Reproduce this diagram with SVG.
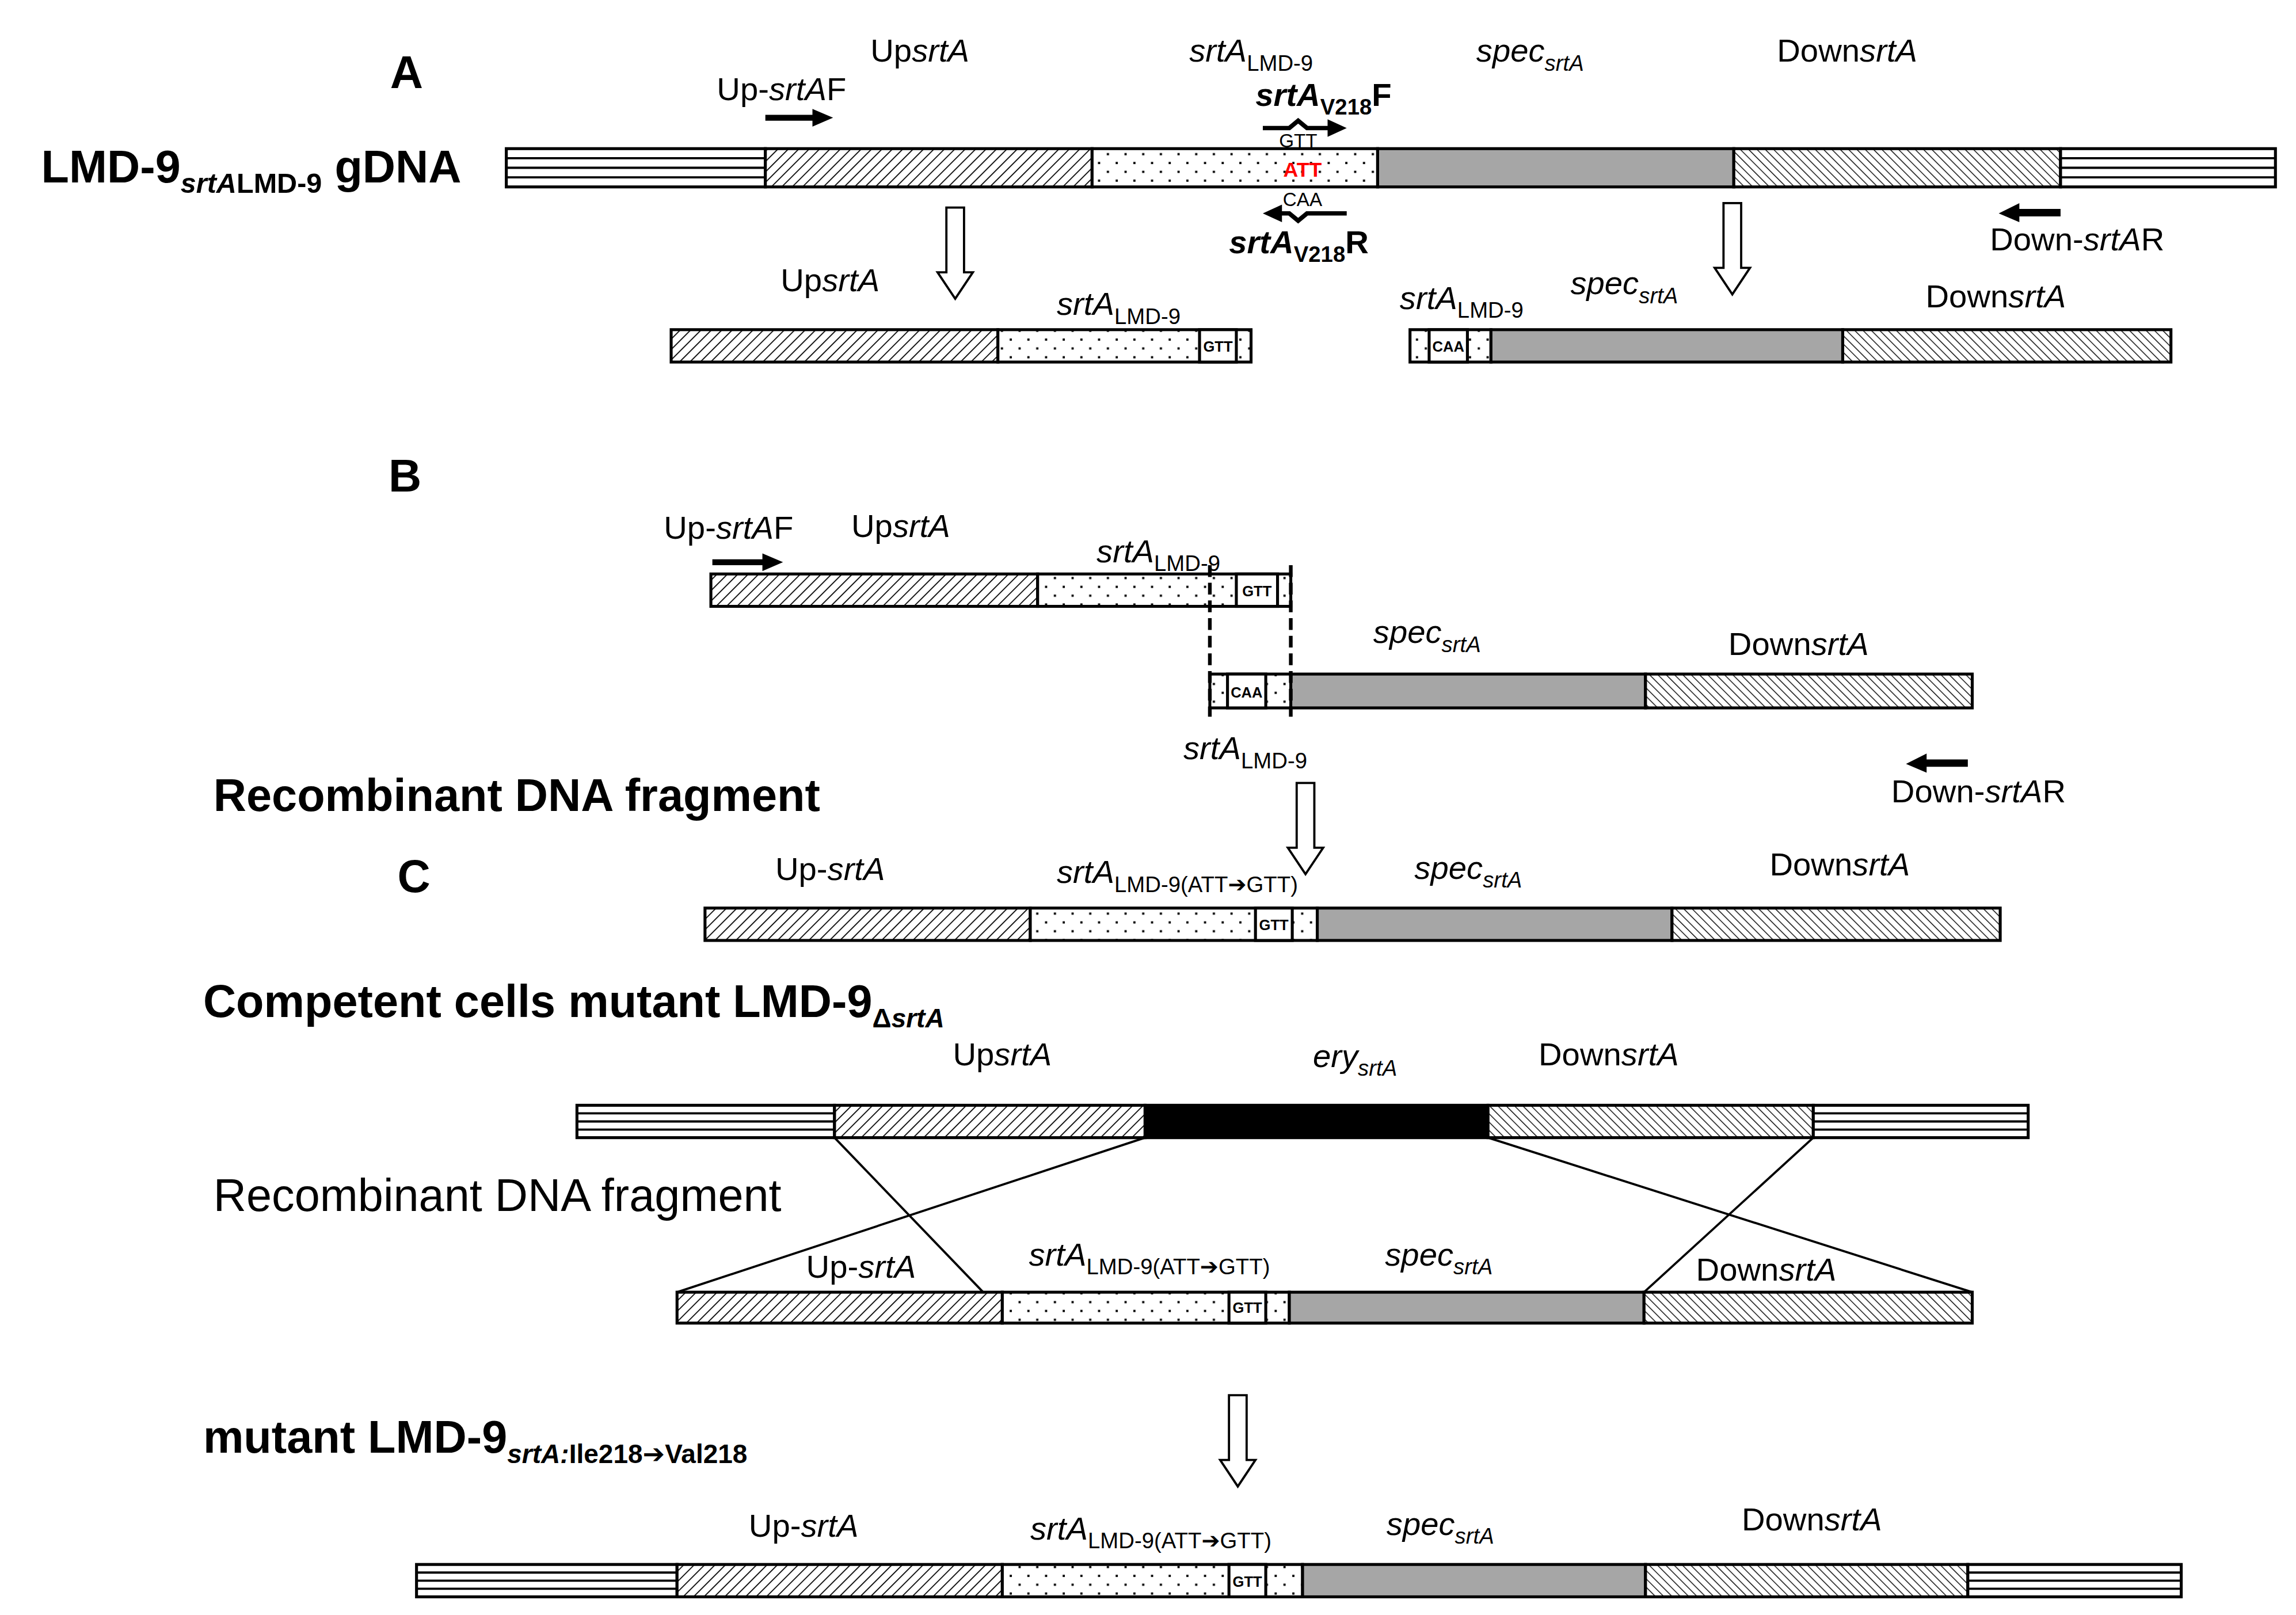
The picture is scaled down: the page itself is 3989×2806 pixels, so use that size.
<svg xmlns="http://www.w3.org/2000/svg" width="3989" height="2806" viewBox="0 0 3989 2806">
<style>
text{font-family:"Liberation Sans",Arial,sans-serif;fill:#000}
.l{font-size:22px}.s{font-size:15px}.i{font-style:italic}.b{font-weight:bold}
.t{font-size:31px;font-weight:bold}
.ar{font-family:"DejaVu Sans",sans-serif;font-weight:bold}
.seg{stroke:#000;stroke-width:2}
.up{fill:url(#hu)}.dn{fill:url(#hd)}.dt{fill:url(#dt)}.sp{fill:#a6a6a6}.wh{fill:#fff}.fl{fill:#fff}
.g{font-size:10px;font-weight:bold}
.ln{stroke:#000;stroke-width:1.5;fill:none}
.ha{fill:#fff;stroke:#000;stroke-width:1.5}
</style>
<defs>
<pattern id="hu" patternUnits="userSpaceOnUse" width="5" height="5" patternTransform="rotate(45)"><rect width="5" height="5" fill="#fff"/><line x1="0" y1="0" x2="0" y2="5" stroke="#000" stroke-width="1.4"/></pattern>
<pattern id="hd" patternUnits="userSpaceOnUse" width="4" height="4" patternTransform="rotate(-45)"><rect width="4" height="4" fill="#fff"/><line x1="0" y1="0" x2="0" y2="4" stroke="#000" stroke-width="1.1"/></pattern>
<pattern id="dt" patternUnits="userSpaceOnUse" width="12" height="12"><rect width="12" height="12" fill="#fff"/><rect x="2" y="2" width="1.5" height="1.5" fill="#000"/><rect x="8" y="8" width="1.5" height="1.5" fill="#000"/></pattern>
<path id="hollow" d="M-6,0 L6,0 L6,44 L12,44 L0,62 L-12,44 L-6,44 Z" class="ha"/>
</defs>
<rect width="3989" height="2806" fill="#fff"/>
<g transform="scale(2.5571)">
<g id="rowA">
<text x="265" y="60" class="t">A</text>
<text x="28" y="124" class="t">LMD-9<tspan font-size="19" dy="7" font-style="italic">srtA</tspan><tspan font-size="19">LMD-9</tspan><tspan dy="-7"> gDNA</tspan></text>
<g class="seg">
<rect x="344" y="101" width="176" height="26" class="fl"/>
<rect x="520" y="101" width="222" height="26" class="up"/>
<rect x="742" y="101" width="194" height="26" class="dt"/>
<rect x="936" y="101" width="242" height="26" class="sp"/>
<rect x="1178" y="101" width="222" height="26" class="dn"/>
<rect x="1400" y="101" width="146" height="26" class="fl"/>
</g>
<path class="ln" d="M344,107.5H520M344,114H520M344,120.5H520M1400,107.5H1546M1400,114H1546M1400,120.5H1546"/>
<text x="625" y="42" class="l" text-anchor="middle">Up<tspan class="i">srtA</tspan></text>
<text x="808" y="42" class="l i">srtA<tspan class="s" font-style="normal" dy="6">LMD-9</tspan></text>
<text x="1003" y="42" class="l i">spec<tspan class="s" dy="6">srtA</tspan></text>
<text x="1255" y="42" class="l" text-anchor="middle">Down<tspan class="i">srtA</tspan></text>
<text x="487" y="68" class="l">Up-<tspan class="i">srtA</tspan>F</text>
<path d="M520,78H552V74L566,80L552,86V82H520Z"/>
<text x="853" y="72" class="l b"><tspan class="i">srtA</tspan><tspan class="s" dy="6">V218</tspan><tspan dy="-6">F</tspan></text>
<path d="M858,87H876L882,82L888,87H903" fill="none" stroke="#000" stroke-width="3"/>
<path d="M902,81L915,87L902,93Z"/>
<text x="882" y="100" font-size="13" text-anchor="middle">GTT</text>
<text x="885" y="120" font-size="14" font-weight="bold" style="fill:#f00" text-anchor="middle">ATT</text>
<text x="885" y="140" font-size="13" text-anchor="middle">CAA</text>
<path d="M870,145H876L882,150L888,145H915" fill="none" stroke="#000" stroke-width="3"/>
<path d="M871,139L858,145L871,151Z"/>
<text x="835" y="172" class="l b"><tspan class="i">srtA</tspan><tspan class="s" dy="6">V218</tspan><tspan dy="-6">R</tspan></text>
<path d="M1400,142H1372V138L1358,145L1372,151V147H1400Z"/>
<text x="1352" y="170" class="l">Down-<tspan class="i">srtA</tspan>R</text>
<use href="#hollow" x="649" y="141"/>
<use href="#hollow" x="1177" y="138"/>
</g>
<g id="rowA2">
<text x="564" y="198" class="l" text-anchor="middle">Up<tspan class="i">srtA</tspan></text>
<text x="718" y="214" class="l i">srtA<tspan class="s" font-style="normal" dy="6">LMD-9</tspan></text>
<g class="seg">
<rect x="456" y="224" width="222" height="22" class="up"/>
<rect x="678" y="224" width="172" height="22" class="dt"/>
<rect x="815" y="224" width="25" height="22" class="wh"/>
</g>
<text x="827.5" y="239" class="g" text-anchor="middle">GTT</text>
<text x="951" y="210" class="l i">srtA<tspan class="s" font-style="normal" dy="6">LMD-9</tspan></text>
<text x="1067" y="200" class="l i">spec<tspan class="s" dy="6">srtA</tspan></text>
<text x="1356" y="209" class="l" text-anchor="middle">Down<tspan class="i">srtA</tspan></text>
<g class="seg">
<rect x="958" y="224" width="55" height="22" class="dt"/>
<rect x="971" y="224" width="26" height="22" class="wh"/>
<rect x="1013" y="224" width="239" height="22" class="sp"/>
<rect x="1252" y="224" width="223" height="22" class="dn"/>
</g>
<text x="984" y="239" class="g" text-anchor="middle">CAA</text>
</g>
<g id="rowB">
<text x="264" y="334" class="t">B</text>
<text x="451" y="366" class="l">Up-<tspan class="i">srtA</tspan>F</text>
<path d="M484,380H518V376L532,382L518,388V384H484Z"/>
<text x="612" y="365" class="l" text-anchor="middle">Up<tspan class="i">srtA</tspan></text>
<text x="745" y="382" class="l i">srtA<tspan class="s" font-style="normal" dy="6">LMD-9</tspan></text>
<g class="seg">
<rect x="483" y="390" width="222" height="22" class="up"/>
<rect x="705" y="390" width="172" height="22" class="dt"/>
<rect x="840" y="390" width="28" height="22" class="wh"/>
<rect x="822" y="458" width="55" height="23" class="dt"/>
<rect x="834" y="458" width="26" height="23" class="wh"/>
<rect x="877" y="458" width="241" height="23" class="sp"/>
<rect x="1118" y="458" width="222" height="23" class="dn"/>
</g>
<text x="854" y="405" class="g" text-anchor="middle">GTT</text>
<text x="847" y="474" class="g" text-anchor="middle">CAA</text>
<path d="M822,384V487M877,384V487" stroke="#000" stroke-width="2.5" stroke-dasharray="8,4"/>
<text x="933" y="437" class="l i">spec<tspan class="s" dy="6">srtA</tspan></text>
<text x="1222" y="445" class="l" text-anchor="middle">Down<tspan class="i">srtA</tspan></text>
<text x="804" y="516" class="l i">srtA<tspan class="s" font-style="normal" dy="6">LMD-9</tspan></text>
<path d="M1337,516H1309V512L1295,519L1309,525V521H1337Z"/>
<text x="1285" y="545" class="l">Down-<tspan class="i">srtA</tspan>R</text>
<text x="145" y="551" class="t">Recombinant DNA fragment</text>
<use href="#hollow" x="887" y="532"/>
</g>
<g id="rowC">
<text x="270" y="606" class="t">C</text>
<text x="564" y="598" class="l" text-anchor="middle">Up-<tspan class="i">srtA</tspan></text>
<text x="718" y="600" class="l i">srtA<tspan class="s" font-style="normal" dy="6">LMD-9(ATT<tspan class="ar">➔</tspan>GTT)</tspan></text>
<text x="961" y="597" class="l i">spec<tspan class="s" dy="6">srtA</tspan></text>
<text x="1250" y="595" class="l" text-anchor="middle">Down<tspan class="i">srtA</tspan></text>
<g class="seg">
<rect x="479" y="617" width="221" height="22" class="up"/>
<rect x="700" y="617" width="195" height="22" class="dt"/>
<rect x="853" y="617" width="25" height="22" class="wh"/>
<rect x="895" y="617" width="241" height="22" class="sp"/>
<rect x="1136" y="617" width="223" height="22" class="dn"/>
</g>
<text x="865.5" y="632" class="g" text-anchor="middle">GTT</text>
</g>
<g id="rowD">
<text x="138" y="691" class="t">Competent cells mutant LMD-9<tspan font-size="18" dy="7">Δ<tspan font-style="italic">srtA</tspan></tspan></text>
<text x="681" y="724" class="l" text-anchor="middle">Up<tspan class="i">srtA</tspan></text>
<text x="892" y="725" class="l i">ery<tspan class="s" dy="6">srtA</tspan></text>
<text x="1093" y="724" class="l" text-anchor="middle">Down<tspan class="i">srtA</tspan></text>
<g class="seg">
<rect x="392" y="751" width="175" height="22" class="fl"/>
<rect x="567" y="751" width="211" height="22" class="up"/>
<rect x="778" y="751" width="233" height="22" fill="#000"/>
<rect x="1011" y="751" width="221" height="22" class="dn"/>
<rect x="1232" y="751" width="146" height="22" class="fl"/>
</g>
<path class="ln" d="M392,756.5H567M392,762H567M392,767.5H567M1232,756.5H1378M1232,762H1378M1232,767.5H1378"/>
<text x="145" y="823" font-size="31">Recombinant DNA fragment</text>
</g>
<g id="connectors">
<path class="ln" d="M567,773L668,878M778,773L460,878M1011,773L1340,878M1232,773L1117,878"/>
</g>
<g id="rowE">
<text x="585" y="868" class="l" text-anchor="middle">Up-<tspan class="i">srtA</tspan></text>
<text x="699" y="860" class="l i">srtA<tspan class="s" font-style="normal" dy="6">LMD-9(ATT<tspan class="ar">➔</tspan>GTT)</tspan></text>
<text x="941" y="860" class="l i">spec<tspan class="s" dy="6">srtA</tspan></text>
<text x="1200" y="870" class="l" text-anchor="middle">Down<tspan class="i">srtA</tspan></text>
<g class="seg">
<rect x="460" y="878" width="221" height="21" class="up"/>
<rect x="681" y="878" width="195" height="21" class="dt"/>
<rect x="835" y="878" width="25" height="21" class="wh"/>
<rect x="876" y="878" width="241" height="21" class="sp"/>
<rect x="1117" y="878" width="223" height="21" class="dn"/>
</g>
<text x="847.5" y="892" class="g" text-anchor="middle">GTT</text>
</g>
<g id="rowF">
<text x="138" y="987" class="t">mutant LMD-9<tspan font-size="18" dy="7"><tspan font-style="italic">srtA:</tspan>Ile218<tspan class="ar">➔</tspan>Val218</tspan></text>
<use href="#hollow" x="841" y="948"/>
<text x="546" y="1044" class="l" text-anchor="middle">Up-<tspan class="i">srtA</tspan></text>
<text x="700" y="1046" class="l i">srtA<tspan class="s" font-style="normal" dy="6">LMD-9(ATT<tspan class="ar">➔</tspan>GTT)</tspan></text>
<text x="942" y="1043" class="l i">spec<tspan class="s" dy="6">srtA</tspan></text>
<text x="1231" y="1040" class="l" text-anchor="middle">Down<tspan class="i">srtA</tspan></text>
<g class="seg">
<rect x="283" y="1063" width="177" height="22" class="fl"/>
<rect x="460" y="1063" width="221" height="22" class="up"/>
<rect x="681" y="1063" width="204" height="22" class="dt"/>
<rect x="835" y="1063" width="25" height="22" class="wh"/>
<rect x="885" y="1063" width="233" height="22" class="sp"/>
<rect x="1118" y="1063" width="219" height="22" class="dn"/>
<rect x="1337" y="1063" width="145" height="22" class="fl"/>
</g>
<path class="ln" d="M283,1068.5H460M283,1074H460M283,1079.5H460M1337,1068.5H1482M1337,1074H1482M1337,1079.5H1482"/>
<text x="847.5" y="1078" class="g" text-anchor="middle">GTT</text>
</g>
</g>
</svg>
